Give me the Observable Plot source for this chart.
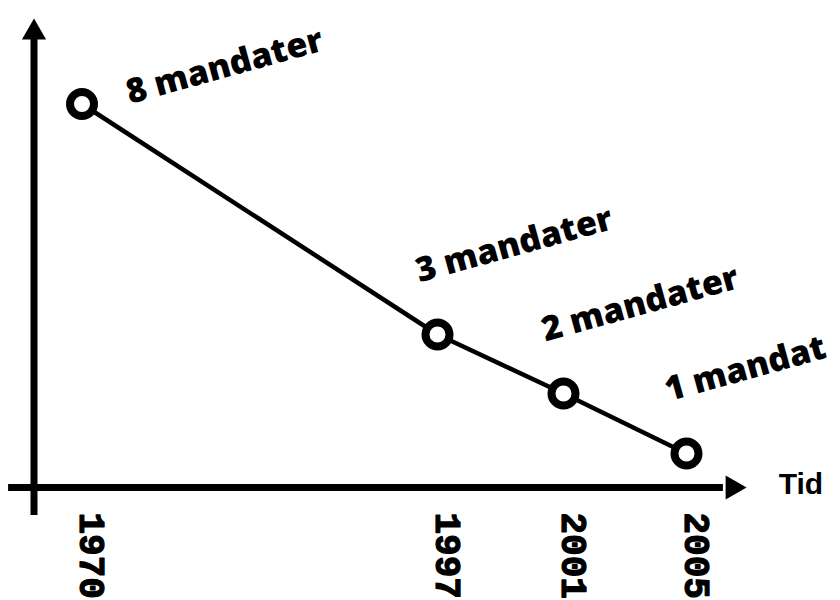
<!DOCTYPE html>
<html>
<head>
<meta charset="utf-8">
<script src="https://cdn.jsdelivr.net/npm/d3@7"></script>
<script src="https://cdn.jsdelivr.net/npm/@observablehq/plot@0.6"></script>
<style>
  html, body { margin: 0; padding: 0; background: #fff; }
  #chart { width: 840px; height: 600px; overflow: hidden; }
</style>
</head>
<body>
<div id="chart"></div>
<script>
// Data
const years = [1970, 1997, 2001, 2005];
const seats = [8, 3, 2, 1];
const seatLabels = ["8 mandater", "3 mandater", "2 mandater", "1 mandat"];
const yearLabels = ["1970", "1997", "2001", "2005"];
const xAxisLabel = "Tid";

const data = years.map((y, i) => ({year: y, seats: seats[i], label: seatLabels[i], yearLabel: yearLabels[i]}));

const labelFont = "'Open Sans', 'DejaVu Sans', sans-serif";
const yearFont = "'Liberation Mono', 'DejaVu Sans Mono', monospace";

const chart = Plot.plot({
  width: 840,
  height: 600,
  margin: 0,
  style: {background: "#fff", overflow: "visible"},
  x: {type: "linear", domain: [1966.6, 1970, 1997, 2001, 2005], range: [33.5, 81.5, 437, 563, 686], axis: null},
  y: {type: "linear", domain: [0, 1, 2, 3, 8], range: [487, 453, 393, 334, 103.5], axis: null},
  marks: [
    // axes
    Plot.ruleY([0], {x1: 1964.8, x2: 2006.2, stroke: "black", strokeWidth: 7}),
    Plot.ruleX([1966.6], {y1: -0.82, y2: 9.5, stroke: "black", strokeWidth: 7}),
    Plot.dot([0], {x: 2006.5, y: 0, symbol: "triangle", r: 9, rotate: 90, fill: "black", stroke: null}),
    Plot.dot([0], {x: 1966.6, y: 9.55, symbol: "triangle", r: 9, fill: "black", stroke: null}),
    Plot.text([xAxisLabel], {x: 2008.0, y: 0, text: d => d, textAnchor: "start", dy: -3, fontSize: 30, fontWeight: "bold", fontFamily: "'Liberation Sans Narrow', 'Arial Narrow', sans-serif", fill: "black"}),
    // line and points
    Plot.line(data, {x: "year", y: "seats", stroke: "black", strokeWidth: 4.5}),
    Plot.dot(data, {x: "year", y: "seats", r: 12, fill: "white", stroke: "black", strokeWidth: 8}),
    // year tick labels
    Plot.text(data, {x: "year", y: 0, text: "yearLabel", rotate: 90, textAnchor: "start", lineAnchor: "middle", dx: 10, dy: 25, fontSize: 36, fontWeight: "bold", fontFamily: yearFont, fill: "black", stroke: "black", strokeWidth: 1.2}),
    // seat labels
    Plot.text(data.slice(0, 1), {x: "year", y: "seats", text: "label", rotate: -15.5, textAnchor: "start", lineAnchor: "bottom", dx: 48, dy: 0, fontSize: 34, fontWeight: 800, fontFamily: labelFont, fill: "black"}),
    Plot.text(data.slice(1), {x: "year", y: "seats", text: "label", rotate: -15.5, textAnchor: "start", lineAnchor: "bottom", dx: -18, dy: -52, fontSize: 34, fontWeight: 800, fontFamily: labelFont, fill: "black"})
  ]
});
document.getElementById("chart").appendChild(chart);
</script>
</body>
</html>
